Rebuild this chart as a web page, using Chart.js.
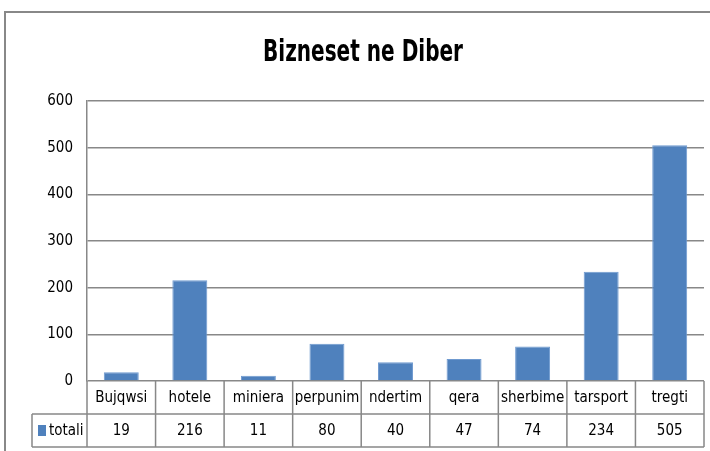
<!DOCTYPE html>
<html lang="sq">
<head>
    <meta charset="UTF-8">
    <title>Bizneset ne Diber</title>
    <script src="https://cdn.jsdelivr.net/npm/chart.js"></script>
    <style>
        html, body { margin: 0; padding: 0; background: #ffffff; }
        #wrap { width: 710px; height: 451px; position: relative; }
    </style>
</head>
<body>
    <div id="wrap"><canvas id="bizChart" width="710" height="451"></canvas></div>

    <script>
        // data
        const categories = ["Bujqwsi", "hotele", "miniera", "perpunim", "ndertim", "qera", "sherbime", "tarsport", "tregti"];
        const totali = [19, 216, 11, 80, 40, 47, 74, 234, 505];
        const seriesName = "totali";
        const chartTitle = "Bizneset ne Diber";
        const yTicks = [0, 100, 200, 300, 400, 500, 600];

        const fontStack = '"Liberation Sans Narrow", "DejaVu Sans Condensed", "Open Sans", sans-serif';
        const gray = "#888888";
        const barBlue = "#4F81BD";

        // outer frame, title and data table under the plot
        const tablePlugin = {
            id: "dataTable",
            beforeDraw(chart) {
                const ctx = chart.ctx;
                ctx.save();
                ctx.strokeStyle = gray;
                ctx.lineWidth = 2;
                ctx.strokeRect(5, 12, 730, 460);
                // title, squeezed like the narrow original face
                ctx.fillStyle = "#000";
                ctx.font = "bold 30px " + fontStack;
                ctx.textAlign = "center";
                ctx.textBaseline = "middle";
                ctx.fillText(chartTitle, 363, 53, 200);
                ctx.restore();
            },
            afterDraw(chart) {
                const ctx = chart.ctx;
                const x = chart.scales.x;
                const area = chart.chartArea;
                const n = categories.length;
                const colW = (area.right - area.left) / n;
                const row1Top = area.bottom;
                const row2Top = row1Top + 33;
                const bottom = row2Top + 33;
                const legendLeft = 32;

                ctx.save();
                ctx.strokeStyle = gray;
                ctx.lineWidth = 1.5;
                ctx.beginPath();
                ctx.moveTo(legendLeft, row2Top); ctx.lineTo(area.right, row2Top);
                ctx.moveTo(legendLeft, bottom); ctx.lineTo(area.right, bottom);
                ctx.moveTo(legendLeft, row2Top); ctx.lineTo(legendLeft, bottom);
                for (let i = 0; i <= n; i++) {
                    const bx = area.left + i * colW;
                    ctx.moveTo(bx, row1Top); ctx.lineTo(bx, bottom);
                }
                ctx.stroke();

                ctx.fillStyle = "#000";
                ctx.font = "15px " + fontStack;
                ctx.textAlign = "center";
                ctx.textBaseline = "middle";
                categories.forEach((c, i) => {
                    const cx = x.getPixelForValue(i);
                    ctx.fillText(c, cx, (row1Top + row2Top) / 2 + 1, colW - 4);
                    ctx.fillText(String(totali[i]), cx, (row2Top + bottom) / 2 + 1);
                });

                // legend key
                ctx.fillStyle = barBlue;
                ctx.fillRect(38, row2Top + 11, 8, 11);
                ctx.fillStyle = "#000";
                ctx.textAlign = "left";
                ctx.fillText(seriesName, 49, (row2Top + bottom) / 2 + 1);
                ctx.restore();
            }
        };

        new Chart(document.getElementById("bizChart"), {
            type: "bar",
            data: {
                labels: categories,
                datasets: [{
                    label: seriesName,
                    data: totali,
                    backgroundColor: barBlue,
                    borderColor: "#6F9AD0",
                    borderWidth: 1,
                    categoryPercentage: 1,
                    barPercentage: 0.51
                }]
            },
            options: {
                responsive: false,
                animation: false,
                layout: { padding: { left: 0, right: 6, top: 101, bottom: 62 } },
                plugins: {
                    legend: { display: false },
                    tooltip: { enabled: false },
                    title: { display: false }
                },
                scales: {
                    x: {
                        ticks: { display: false },
                        grid: { display: false },
                        border: { display: false }
                    },
                    y: {
                        min: 0,
                        max: 600,
                        afterBuildTicks(scale) {
                            scale.ticks = yTicks.map(v => ({ value: v }));
                        },
                        afterFit(scale) { scale.width = 87; },
                        ticks: {
                            color: "#000",
                            padding: 14,
                            font: { family: fontStack, size: 15 }
                        },
                        grid: { color: gray, lineWidth: 1.5, drawTicks: false },
                        border: { color: gray, width: 1.5 }
                    }
                }
            },
            plugins: [tablePlugin]
        });
    </script>
</body>
</html>
